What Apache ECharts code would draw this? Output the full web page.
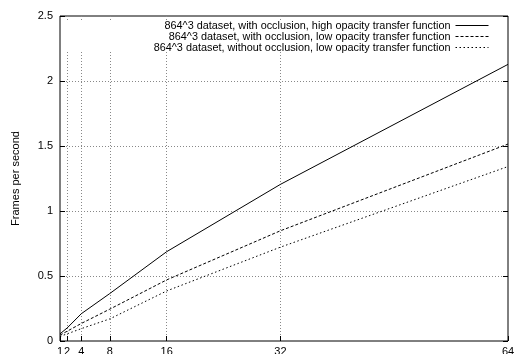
<!DOCTYPE html>
<html>
<head>
<meta charset="utf-8">
<script src="https://cdn.jsdelivr.net/npm/echarts@6/dist/echarts.min.js"></script>
<style>
  html, body { margin: 0; padding: 0; background: #fff; }
  #chart { width: 516px; height: 354px; }
</style>
</head>
<body>
<div id="chart"></div>
<script>
// Number of processors (x) and measured frame rates for each configuration
const processors = [1, 2, 4, 8, 16, 32, 64];
const occlusionHighOpacity = [0.055, 0.10, 0.21, 0.365, 0.687, 1.205, 2.128];
const occlusionLowOpacity = [0.045, 0.075, 0.135, 0.245, 0.47, 0.848, 1.515];
const noOcclusionLowOpacity = [0.035, 0.055, 0.095, 0.17, 0.385, 0.722, 1.342];
const seriesNames = [
  '864^3 dataset, with occlusion, high opacity transfer function',
  '864^3 dataset, with occlusion, low opacity transfer function',
  '864^3 dataset, without occlusion, low opacity transfer function'
];
const yTicks = [0, 0.5, 1, 1.5, 2, 2.5];

const FONT = "'Liberation Sans', Arial, Helvetica, sans-serif";
const pairs = ys => processors.map((x, i) => [x, ys[i]]);

const chart = echarts.init(document.getElementById('chart'), null, { renderer: 'canvas' });

const lineStyles = ['solid', [3, 2], [1.5, 2.5]];
const values = [occlusionHighOpacity, occlusionLowOpacity, noOcclusionLowOpacity];

const series = seriesNames.map((name, i) => ({
  name: name,
  type: 'line',
  data: pairs(values[i]),
  symbol: 'none',
  lineStyle: { color: '#000', width: 1, type: lineStyles[i] },
  itemStyle: { color: '#000' },
  z: 2
}));

const legends = seriesNames.map((name, i) => ({
  data: [name],
  right: 27,
  top: 20 + i * 11,
  orient: 'horizontal',
  align: 'right',
  padding: 0,
  itemWidth: 33,
  itemHeight: 11,
  z: 5,
  itemStyle: { opacity: 0 },
  lineStyle: { width: 1, color: '#000', type: lineStyles[i] },
  textStyle: { fontFamily: FONT, fontSize: 10.85, color: '#000', lineHeight: 11 }
}));

chart.setOption({
  animation: false,
  backgroundColor: '#fff',
  grid: {
    left: 60, top: 16, right: 8, bottom: 13,
    outerBoundsMode: 'none',
    containLabel: false,
    show: true, borderColor: '#000', borderWidth: 1, backgroundColor: 'transparent'
  },
  legend: legends,
  // opaque key area: grid lines stop beneath it
  graphic: [{
    type: 'rect',
    left: 61, top: 21,
    shape: { width: 446, height: 30 },
    style: { fill: '#fff' },
    z: 1,
    silent: true
  }],
  xAxis: {
    type: 'value',
    min: 1,
    max: 64,
    axisLine: { show: false },
    axisTick: {
      show: true, inside: true, length: 5,
      customValues: processors,
      lineStyle: { color: '#000', width: 1 }
    },
    axisLabel: {
      customValues: processors,
      showMinLabel: true,
      showMaxLabel: true,
      hideOverlap: false,
      margin: 5,
      fontFamily: FONT, fontSize: 11, color: '#000'
    },
    splitLine: {
      show: true, showMinLine: false, showMaxLine: false,
      lineStyle: { color: '#888', width: 1, type: [1, 2] }
    }
  },
  yAxis: [{
    type: 'value',
    min: 0,
    max: 2.5,
    interval: 0.5,
    name: 'Frames per second',
    nameLocation: 'middle',
    nameGap: 39,
    nameRotate: 90,
    nameTextStyle: { fontFamily: FONT, fontSize: 11, color: '#000' },
    axisLine: { show: false },
    axisTick: { show: true, inside: true, length: 5, lineStyle: { color: '#000' } },
    axisLabel: {
      margin: 7,
      fontFamily: FONT, fontSize: 11, color: '#000',
      customValues: yTicks,
      formatter: v => String(v)
    },
    splitLine: {
      show: true, showMinLine: false, showMaxLine: false,
      lineStyle: { color: '#888', width: 1, type: [1, 2] }
    }
  }, {
    type: 'value',
    position: 'right',
    min: 0,
    max: 2.5,
    interval: 0.5,
    axisLine: { show: false },
    axisTick: { show: true, inside: true, length: 5, lineStyle: { color: '#000' } },
    axisLabel: { show: false },
    splitLine: { show: false }
  }],
  series: series
});
</script>
</body>
</html>
